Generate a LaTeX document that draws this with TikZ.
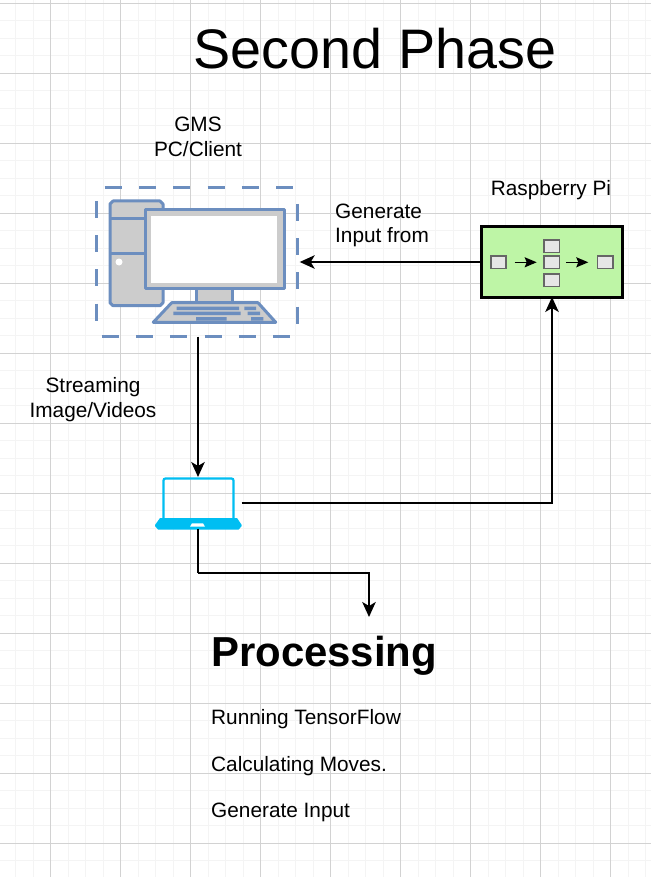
\documentclass[tikz,border=0pt]{standalone}
\usepackage{fontspec}
\setmainfont{Liberation Sans}
\usetikzlibrary{arrows.meta}
\definecolor{gridmajor}{HTML}{D2D2D2}
\definecolor{gridminor}{HTML}{F4F4F4}
\definecolor{pcblue}{HTML}{6C8EBF}
\definecolor{pcgrey}{HTML}{CCCCCC}
\definecolor{pigreen}{HTML}{BEF5A6}
\definecolor{pibox}{HTML}{E6E6E6}
\definecolor{piedge}{HTML}{666666}
\definecolor{lapblue}{HTML}{00BEF2}
\tikzset{
  x=1pt,y=-1pt,
  conn/.style={line width=1.7pt,-{Stealth[length=15pt,width=13.5pt,inset=4pt]}},
  plainbox/.style={inner sep=0pt,outer sep=0pt},
  dashside/.style={pcblue,line width=3pt,dash pattern=on 17pt off 17.3pt},
  icon/.style={draw=pcblue,line width=3pt,fill=pcgrey,line join=round},
  keyrow/.style={fill=pcblue,draw=none},
  pismall/.style={draw=piedge,fill=pibox,line width=1.6pt},
  piarrow/.style={line width=1.5pt,-{Stealth[length=12pt,width=10pt,inset=2pt]}},
  label/.style={inner sep=0pt,font=\fontsize{20.8}{24.6}\selectfont,align=center},
  leftlabel/.style={inner sep=0pt,font=\fontsize{20.8}{24.6}\selectfont,anchor=west}
}
\begin{document}
\begin{tikzpicture}
\useasboundingbox (0,0) rectangle (651,877);
\fill[white] (0,0) rectangle (651,877);
% grid
\foreach \k in {0,...,37}{
  \draw[gridminor,line width=1pt] ({-2+17.5*\k},0) -- ({-2+17.5*\k},877);
}
\foreach \k in {0,...,50}{
  \draw[gridminor,line width=1pt] (0,{3.3+17.5*\k}) -- (651,{3.3+17.5*\k});
}
\foreach \k in {0,...,8}{
  \draw[gridmajor,line width=1pt] ({50.5+70*\k},0) -- ({50.5+70*\k},877);
}
\foreach \k in {0,...,12}{
  \draw[gridmajor,line width=1pt] (0,{3.3+70*\k}) -- (651,{3.3+70*\k});
}
% anchors for connectors
\node[plainbox,minimum width=201pt,minimum height=149pt] (pc) at (197.2,262) {};
\node[plainbox,minimum width=141pt,minimum height=70pt,draw=black,line width=3pt,fill=pigreen] (pi) at (552,262) {};
\node[plainbox,minimum width=87pt,minimum height=52pt] (lap) at (198,503) {};
\coordinate (bend) at (198,573);
\coordinate (procin) at (369,617);
% PC dashed frame
\draw[dashside,dash phase=26.3pt] (pc.north west) -- (pc.north east);
\draw[dashside,dash phase=18pt] (pc.north east) -- (pc.south east);
\draw[dashside,dash phase=29.3pt] (pc.south west) -- (pc.south east);
\draw[dashside,dash phase=21pt] (pc.north west) -- (pc.south west);
% tower
\draw[icon] (110,204) -- (113,201) -- (160,201) -- (163,204) -- (163,302.7) -- (160,305.7) -- (113,305.7) -- (110,302.7) -- cycle;
\draw[pcblue,line width=3pt] (110,218.3) -- (163,218.3) (110,253.3) -- (163,253.3);
\fill[white] (119,262) circle (3.5);
% stand and keyboard
\draw[icon] (196.7,288) rectangle (232.7,303);
\draw[icon] (171.7,302.7) -- (258,302.7) -- (275.7,322.3) -- (153.3,322.3) -- cycle;
\fill[keyrow] (176.7,306.5) rectangle (239,310) (244.3,306.5) rectangle (256,310);
\fill[keyrow] (173.3,311.5) rectangle (240.7,315) (247.7,311.5) rectangle (260,315);
\fill[keyrow] (196,317) rectangle (226.7,320.5) (251,317) rectangle (263.3,320.5);
% monitor
\draw[icon] (145,209.7) rectangle (284,288);
\fill[white] (150.7,215.7) rectangle (277,282.7);
% Pi inner
\draw[pismall] (490.7,255.7) rectangle (506,268.3);
\draw[pismall] (544,239.7) rectangle (559.3,252.3);
\draw[pismall] (544,255.7) rectangle (559.3,268.3);
\draw[pismall] (544,273.7) rectangle (559.3,286.3);
\draw[pismall] (597.3,255.7) rectangle (612.7,268.3);
\draw[piarrow] (514.7,262.3) -- (536.7,262.3);
\draw[piarrow] (566,262.3) -- (588.3,262.3);
% laptop
\draw[lapblue,line width=2.2pt,rounded corners=2pt] (163.5,520) -- (163.5,478.5) -- (233.5,478.5) -- (233.5,520);
\fill[lapblue] (160,518) -- (237,518) -- (241.7,525) -- (241.7,526) -- (238.7,529.5) -- (158,529.5) -- (155,526) -- (155,525) -- cycle;
\fill[white] (192,523.3) -- (203,523.3) -- (205,526.7) -- (190,526.7) -- cycle;
% connectors
\draw[conn] (pc.south -| lap.north) -- (lap.north);
\draw[conn,shorten >=2pt] (pi.west) -- (pi.west -| pc.east);
\draw[conn] (lap.east) -| (pi.south);
\draw[conn,-] (lap.south) -- (bend);
\draw[conn] (bend) -| (procin);
% texts
\node[inner sep=0pt,font=\fontsize{55.7}{60}\selectfont] (title) at (375,49) {Second Phase};
\node[label] (gms) at (198,137) {GMS\\PC/Client};
\node[label] (pilabel) at (551,190) {Raspberry Pi};
\node[leftlabel,align=left] (gen) at (335,225.5) {Generate\\Input from};
\node[label] (stream) at (93,399.5) {Streaming\\Image/Videos};
\node[inner sep=0pt,anchor=west,font=\bfseries\fontsize{41.9}{46}\selectfont] (proc) at (211,656) {Processing};
\node[leftlabel] (t1) at (211,719) {Running TensorFlow};
\node[leftlabel] (t2) at (211,766) {Calculating Moves.};
\node[leftlabel] (t3) at (211,812) {Generate Input};
\end{tikzpicture}
\end{document}
